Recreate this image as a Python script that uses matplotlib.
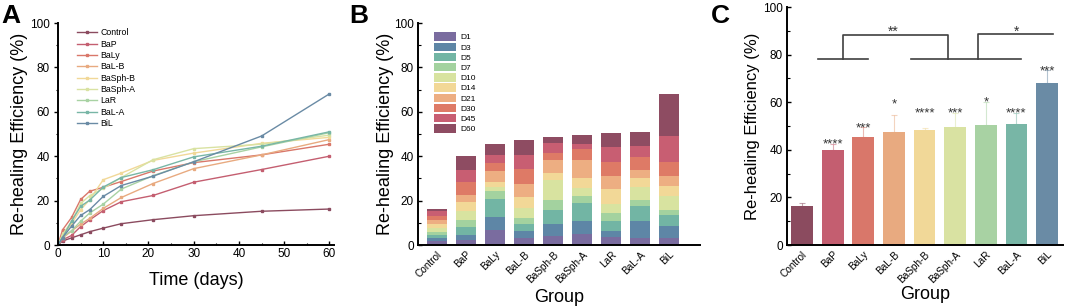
import matplotlib
matplotlib.use("Agg")
import matplotlib.pyplot as plt
import numpy as np
from matplotlib.ticker import MultipleLocator

plt.rcParams['font.family'] = ['Liberation Sans', 'DejaVu Sans']

# ---------------- data ----------------
days = [0, 1, 3, 5, 7, 10, 14, 21, 30, 45, 60]
groups = ["Control", "BaP", "BaLy", "BaL-B", "BaSph-B", "BaSph-A", "LaR", "BaL-A", "BiL"]
control = [0, 1.8, 3.2, 4.6, 6.0, 7.6, 9.6, 11.4, 13.2, 15.2, 16.2]
bap = [0, 2.3, 4.3, 8.3, 11.3, 15.5, 19.5, 22.3, 28.3, 34.0, 40.0]
baly = [0, 6.8, 12.4, 20.5, 24.2, 26.0, 28.6, 33.3, 37.1, 40.6, 45.4]
bal_b = [0, 3.1, 6.3, 9.4, 12.0, 16.5, 21.4, 27.7, 34.4, 40.6, 47.5]
basph_b = [0, 3.9, 9.6, 15.9, 20.4, 29.4, 32.4, 38.1, 41.4, 45.8, 48.5]
basph_a = [0, 4.8, 10.6, 18.7, 22.2, 25.5, 30.4, 38.4, 43.4, 45.4, 49.5]
lar = [0, 3.7, 6.4, 10.7, 14.4, 18.4, 25.2, 31.2, 37.5, 44.2, 50.6]
bal_a = [0, 3.3, 10.8, 17.4, 20.2, 26.1, 30.4, 33.9, 39.7, 44.5, 51.0]
bil = [0, 3.3, 8.5, 13.3, 15.9, 21.9, 26.8, 31.0, 37.5, 49.1, 68.1]
series = [control, bap, baly, bal_b, basph_b, basph_a, lar, bal_a, bil]

day_labels = ["D1", "D3", "D5", "D7", "D10", "D14", "D21", "D30", "D45", "D60"]
final_err = [1.4, 2.6, 4.2, 7.1, 0.5, 6.1, 9.6, 4.3, 5.4]
stars = ["", "****", "***", "*", "****", "***", "*", "****", "***"]
star_y = [0, 44.1, 51.1, 60.9, 57.4, 57.4, 61.9, 57.4, 74.9]

group_colors = ["#8B4B5F", "#C45E70", "#D9776A", "#E8AA80", "#F1D898",
                "#D9E2A2", "#A8D2A3", "#78B6A6", "#6A8BA5"]
day_colors = ["#7A6C9F", "#5E86A6", "#72B5A4", "#A3D29F", "#D8E3A0",
              "#F2D897", "#EDAE82", "#DE7A66", "#C85E72", "#8E4C62"]

# significance brackets (C)
sig_y_low = 78
sig_y_high1 = 88.4
sig_y_high2 = 88.8

# ---------------- figure ----------------
fig = plt.figure(figsize=(10.65, 3.07), dpi=100)
W, H = 1065, 307

def axrect(l, r, t, b):
    return [l / W, (H - b) / H, (r - l) / W, (b - t) / H]

axA = fig.add_axes(axrect(58, 334, 23, 245))
axB = fig.add_axes(axrect(418, 700, 23, 245))
axC = fig.add_axes(axrect(787, 1063, 7, 245))

for ax in (axA, axB, axC):
    for s in ("top", "right"):
        ax.spines[s].set_visible(False)
    for s in ("left", "bottom"):
        ax.spines[s].set_linewidth(1.4)
        ax.spines[s].set_color("black")
    ax.set_ylim(0, 100)
    ax.yaxis.set_major_locator(MultipleLocator(20))
    ax.yaxis.set_minor_locator(MultipleLocator(10))
    ax.tick_params(axis='y', which='major', labelsize=8.5, length=3, width=1, direction='in', pad=3)
    ax.tick_params(axis='y', which='minor', length=1.8, width=0.8, direction='in')

# ---- A ----
for s, g, c in zip(series, groups, group_colors):
    axA.plot(days, s, color=c, lw=1.0, marker='s', ms=2, mec=c, mfc=c, label=g)
axA.set_xlim(0, 61)
axA.xaxis.set_major_locator(MultipleLocator(10))
axA.xaxis.set_minor_locator(MultipleLocator(5))
axA.tick_params(axis='x', which='major', labelsize=8.5, length=3, width=1, direction='in', pad=2)
axA.tick_params(axis='x', which='minor', length=1.8, width=0.8, direction='in')
axA.tick_params(axis='y', which='both', direction='out')
axA.set_xlabel("Time (days)", fontsize=13, labelpad=9)
axA.set_ylabel("Re-healing Efficiency (%)", fontsize=13, labelpad=1)
axA.legend(loc='upper left', bbox_to_anchor=(0.05, 1.0), frameon=False, fontsize=6.3,
           handlelength=2.3, labelspacing=0.27, handletextpad=0.4, borderaxespad=0.2)

# ---- B ----
xB = np.arange(len(groups))
bottoms = np.zeros(len(groups))
cum = np.array([s[1:] for s in series])  # groups x days
inc = np.diff(np.concatenate([np.zeros((len(groups), 1)), cum], axis=1), axis=1)
for j, (lab, c) in enumerate(zip(day_labels, day_colors)):
    axB.bar(xB, inc[:, j], bottom=bottoms, width=0.71, color=c, label=lab, linewidth=0)
    bottoms += inc[:, j]
axB.set_xlim(-0.66, 9.07)
axB.set_xticks(xB)
axB.set_xticklabels(groups, rotation=45, ha='right', rotation_mode='anchor', fontsize=7.2)
axB.tick_params(axis='x', length=0, pad=3)
axB.set_xlabel("Group", fontsize=13, labelpad=3)
axB.set_ylabel("Re-healing Efficiency (%)", fontsize=13, labelpad=0)
axB.legend(loc='upper left', bbox_to_anchor=(0.04, 0.98), frameon=False, fontsize=6,
           handlelength=2.6, handleheight=1.15, labelspacing=0.15, handletextpad=0.5,
           borderaxespad=0.2)

# ---- C ----
xC = np.arange(len(groups))
finals = [s[-1] for s in series]
axC.bar(xC, finals, width=0.71, color=group_colors, linewidth=0)
for x, v, e, c, st, sy in zip(xC, finals, final_err, group_colors, stars, star_y):
    axC.errorbar(x, v, yerr=[[0], [e]], fmt='none', ecolor=c, elinewidth=0.8,
                 capsize=2.5, capthick=0.8, alpha=0.5)
    if st:
        axC.text(x, sy - 3.2, st, ha='center', va='baseline', fontsize=9.5, color='#333333')
axC.set_xlim(-0.49, 8.52)
axC.set_xticks(xC)
axC.set_xticklabels(groups, rotation=45, ha='right', rotation_mode='anchor', fontsize=7.2)
axC.tick_params(axis='x', length=0, pad=3)
axC.set_xlabel("Group", fontsize=13, labelpad=1)
axC.set_ylabel("Re-healing Efficiency (%)", fontsize=12, labelpad=2)

lc = '#404040'
lw = 1.2
axC.plot([0.53, 2.17], [sig_y_low, sig_y_low], color=lc, lw=lw)
axC.plot([3.56, 7.15], [sig_y_low, sig_y_low], color=lc, lw=lw)
axC.plot([1.35, 1.35, 4.75, 4.75], [sig_y_low, sig_y_high1, sig_y_high1, sig_y_low], color=lc, lw=lw)
axC.plot([5.73, 5.73, 8.18], [sig_y_low, sig_y_high2, sig_y_high2], color=lc, lw=lw)
axC.text(2.98, 88.0, "**", ha='center', va='baseline', fontsize=10, color='#333333')
axC.text(7.0, 88.0, "*", ha='center', va='baseline', fontsize=10, color='#333333')

# panel letters
fig.text(1 / W, 1 - 23 / H, "A", fontsize=19, fontweight='bold')
fig.text(349 / W, 1 - 23 / H, "B", fontsize=19, fontweight='bold')
fig.text(711 / W, 1 - 23 / H, "C", fontsize=19, fontweight='bold')

fig.savefig("out.png", dpi=100)
